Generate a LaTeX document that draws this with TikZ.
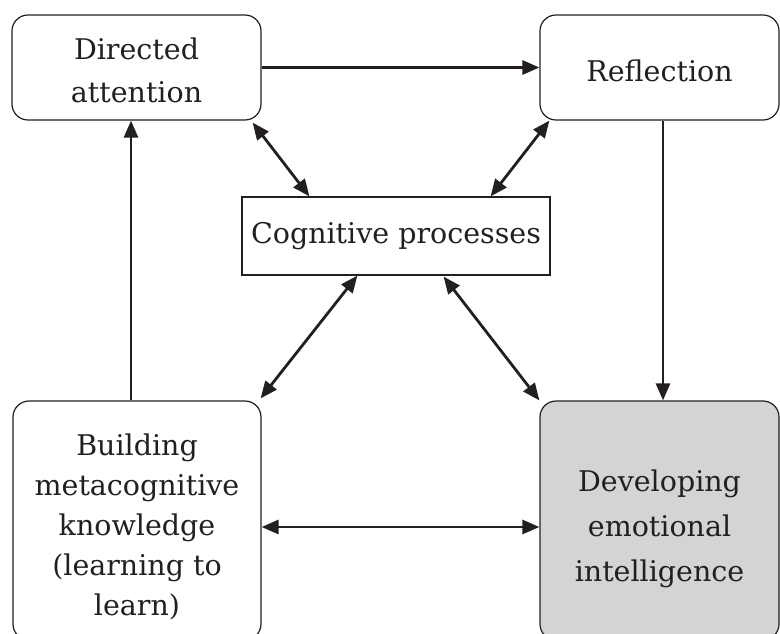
\documentclass[tikz,border=0pt]{standalone}
\usepackage{fontspec}
\setmainfont{DejaVu Serif}
\usetikzlibrary{arrows.meta}
\definecolor{ink}{HTML}{231F20}
\definecolor{boxgray}{HTML}{D3D4D6}
\tikzset{
  roundbox/.style={draw=ink, line width=1.2pt, rounded corners=16pt, align=center, inner sep=0pt, text=ink},
  plainbox/.style={draw=ink, line width=1.2pt, align=center, inner sep=0pt, text=ink},
  tip/.tip={Triangle[length=17pt,width=14pt]},
  conn/.style={draw=ink, line width=2.8pt, -tip},
  biconn/.style={draw=ink, line width=2.8pt, tip-tip},
  txt/.style={font=\fontsize{28.5}{42}\selectfont, align=center, text=ink, inner sep=0pt}
}
\begin{document}
\begin{tikzpicture}[x=1pt,y=-1pt]
\useasboundingbox (0,0) rectangle (780,634);
\node[roundbox, minimum width=249pt, minimum height=105pt] (da) at (136.5,67.5) {};
\node[txt, font=\fontsize{28.5}{43}\selectfont] (dat) at ([shift={(0,3)}]da.center) {Directed\\attention};
\node[roundbox, minimum width=239pt, minimum height=105pt] (re) at (659.5,67.5) {};
\node[txt] (ret) at ([shift={(0,3)}]re.center) {Reflection};
\node[plainbox, txt, minimum width=308pt, minimum height=78pt] (cp) at (396,236) {Cognitive processes};
\node[roundbox, minimum width=248pt, minimum height=239pt] (bm) at (137,520.5) {};
\node[txt, font=\fontsize{28.5}{40}\selectfont] (bmt) at ([shift={(0,6)}]bm.center) {Building\\metacognitive\\knowledge\\(learning to\\learn)};
\node[roundbox, fill=boxgray, minimum width=239pt, minimum height=239pt] (de) at (659.5,520.5) {};
\node[txt, font=\fontsize{28.5}{45}\selectfont] (det) at ([shift={(0,8)}]de.center) {Developing\\emotional\\intelligence};
% straight connectors
\draw[conn] (da.east) -- (re.west);
\draw[conn] ([shift={(3.5,0)}]re.south) -- ([shift={(3.5,0)}]de.north);
\draw[conn] ([shift={(-6,0)}]bm.north) -- ([shift={(-5.5,0)}]da.south);
\draw[biconn] ([shift={(0,6.5)}]bm.east) -- ([shift={(0,6.5)}]de.west);
% diagonals
\draw[biconn] ([shift={(-9,2)}]da.south east) -- ([shift={(68,0)}]cp.north west);
\draw[biconn] ([shift={(10,0)}]re.south west) -- ([shift={(-60,0)}]cp.north east);
\draw[biconn] ([shift={(116,0)}]cp.south west) -- ([shift={(-1,-2)}]bm.north east);
\draw[biconn] ([shift={(-107,1)}]cp.south east) -- ([shift={(0,0)}]de.north west);
\end{tikzpicture}
\end{document}
